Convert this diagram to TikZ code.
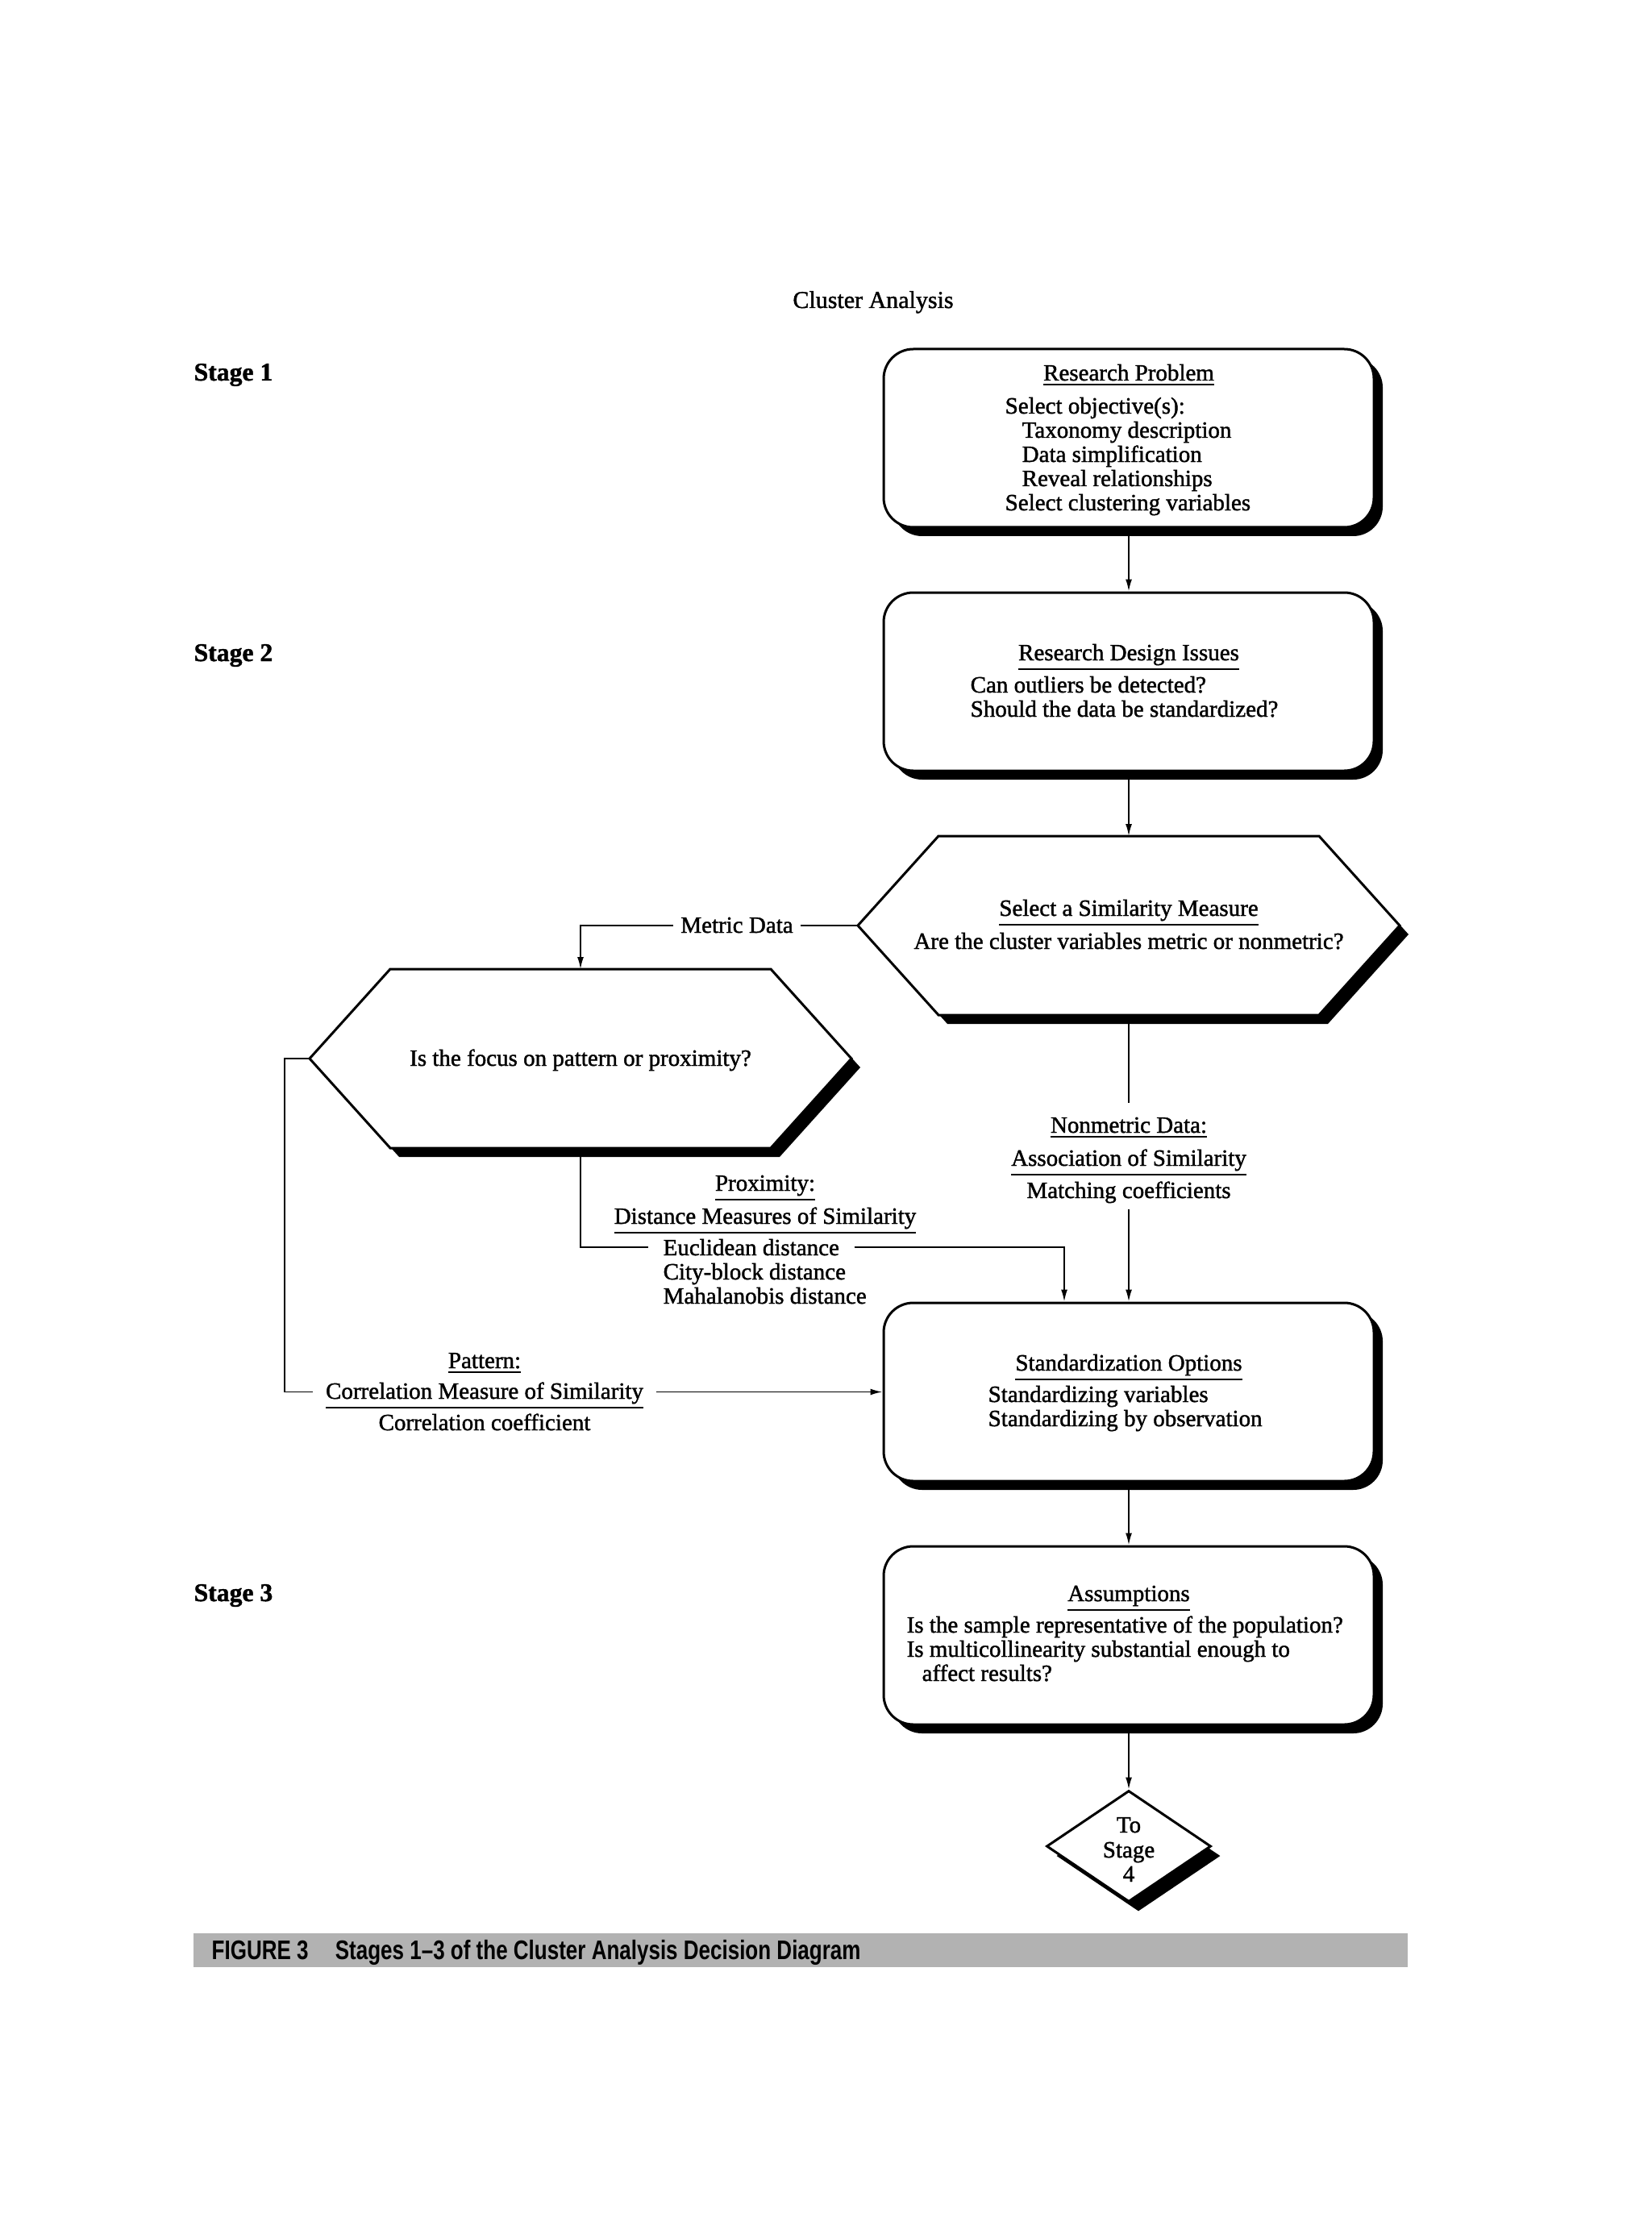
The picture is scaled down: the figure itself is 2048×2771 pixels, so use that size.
\documentclass[tikz,border=0pt]{standalone}
\usepackage{fontspec}
\setmainfont{Liberation Serif}[FakeBold=1.4]
\newfontfamily\capfont{Liberation Sans}[FakeStretch=0.78, Ligatures=TeX]
\usetikzlibrary{shapes.geometric,shadows,arrows.meta,calc}
\tikzset{
  x=0.3pt, y=-0.3pt,
  every node/.style={font=\fontsize{8.7}{9}\selectfont, inner sep=0pt},
  shad/.style={drop shadow={shadow xshift=3.3pt, shadow yshift=-3.3pt, fill=black, opacity=1}},
  box/.style={draw, line width=0.9pt, rounded corners=11pt, fill=white,
    minimum width=182.4pt, minimum height=66.3pt, shad},
  hexs/.style={draw, line width=0.9pt, fill=white, shad},
  conn/.style={line width=0.55pt},
  arr/.style={-{Latex[length=4.5pt,width=2.4pt]}},
  stagelbl/.style={font=\fontsize{9.5}{10}\selectfont\bfseries, anchor=base west},
  hd/.style={anchor=base},
  ln/.style={anchor=base west},
}
\begin{document}
\begin{tikzpicture}
\fill[white] (0,0) rectangle (2048,2771);
\useasboundingbox (0,0) rectangle (2048,2771);

% title and stage labels
\node[anchor=base, font=\fontsize{9}{9}\selectfont] (title) at (1083,382) {Cluster Analysis};
\node[stagelbl] (st1) at (240,472) {Stage 1};
\node[stagelbl] (st2) at (240,820) {Stage 2};
\node[stagelbl] (st3) at (240,1986) {Stage 3};

% Box 1
\node[box] (box1) at (1400,543.5) {};
\node[hd] (b1h) at (1400,472) {\underline{Research Problem}};
\node[ln] (b1a) at (1246,513) {Select objective(s):};
\node[ln] (b1b) at (1267,543) {Taxonomy description};
\node[ln] (b1c) at (1267,573) {Data simplification};
\node[ln] (b1d) at (1267,603) {Reveal relationships};
\node[ln] (b1e) at (1246,633) {Select clustering variables};

% Box 2
\node[box] (box2) at (1400,845.5) {};
\node[hd] (b2h) at (1400,819) {\underline{Research Design Issues}};
\node[ln] (b2a) at (1203,859) {Can outliers be detected?};
\node[ln] (b2b) at (1203,889) {Should the data be standardized?};

% Hexagon A
\coordinate (hexA) at (1400,1148);
\coordinate (hexAw) at ($(hexA)+(-336,0)$);
\coordinate (hexAn) at ($(hexA)+(0,-111)$);
\coordinate (hexAs) at ($(hexA)+(0,111)$);
\path[hexs] (hexAw) -- ($(hexA)+(-236,-111)$) -- ($(hexA)+(236,-111)$) -- ($(hexA)+(336,0)$)
  -- ($(hexA)+(236,111)$) -- ($(hexA)+(-236,111)$) -- cycle;
\node[hd] (hAh) at (1400,1136) {\underline{Select a Similarity Measure}};
\node[hd] (hAa) at (1400,1177) {Are the cluster variables metric or nonmetric?};

% Hexagon B
\coordinate (hexB) at (720,1313);
\coordinate (hexBw) at ($(hexB)+(-336,0)$);
\coordinate (hexBn) at ($(hexB)+(0,-111)$);
\coordinate (hexBs) at ($(hexB)+(0,111)$);
\path[hexs] (hexBw) -- ($(hexB)+(-236,-111)$) -- ($(hexB)+(236,-111)$) -- ($(hexB)+(336,0)$)
  -- ($(hexB)+(236,111)$) -- ($(hexB)+(-236,111)$) -- cycle;
\node[hd] (hBa) at (720,1322) {Is the focus on pattern or proximity?};

% Metric data
\node[hd, inner xsep=2.6pt] (mdata) at (914,1157) {Metric Data};
\draw[conn] (hexAw) -- (mdata.east |- hexAw);
\draw[conn,arr] (mdata.west |- hexAw) -| (hexBn);

% Box 3
\node[box] (box3) at (1400,1726.5) {};
\node[hd] (b3h) at (1400,1700) {\underline{Standardization Options}};
\node[ln] (b3a) at (1225,1739) {Standardizing variables};
\node[ln] (b3b) at (1225,1769) {Standardizing by observation};

% Nonmetric
\node[hd] (nm1) at (1400,1405) {\underline{Nonmetric Data:}};
\node[hd] (nm2) at (1400,1446) {\underline{Association of Similarity}};
\node[hd] (nm3) at (1400,1486) {Matching coefficients};
\draw[conn] (hexAs) -- ([yshift=5pt]nm1.north);
\draw[conn,arr] ([yshift=-2pt]nm3.south) -- (box3.north);

% Proximity
\node[hd] (px1) at (949,1477) {\underline{Proximity:}};
\node[hd] (px2) at (949,1518) {\underline{Distance Measures of Similarity}};
\node[ln, inner xsep=5.4pt] (eu) at (804,1557) {Euclidean distance};
\node[ln] (cb) at (822,1587) {City-block distance};
\node[ln] (mh) at (822,1617) {Mahalanobis distance};
\draw[conn] (hexBs) |- (eu.west);
\draw[conn,arr] (eu.east) -| ($(box3.north)+(-80,0)$);

% Pattern
\node[hd] (pt1) at (601,1697) {\underline{Pattern:}};
\node[hd, inner xsep=4.5pt] (pt2) at (601,1735) {\underline{Correlation Measure of Similarity}};
\node[hd] (pt3) at (601,1774) {Correlation coefficient};
\coordinate (hexBl) at (353,1313);
\draw[conn] (hexBw) -- (hexBl) |- (pt2.west |- box3.west);
\draw[conn,arr] (pt2.east |- box3.west) -- (box3.west);

% Box 4
\node[box] (box4) at (1400,2028.5) {};
\node[hd] (b4h) at (1400,1986) {\underline{Assumptions}};
\node[ln] (b4a) at (1124,2025) {Is the sample representative of the population?};
\node[ln] (b4b) at (1124,2055) {Is multicollinearity substantial enough to};
\node[ln] (b4c) at (1143,2085) {affect results?};

% Diamond
\node[diamond, draw, line width=0.9pt, fill=white, minimum width=61.2pt, minimum height=41.4pt,
  aspect=1.48, drop shadow={shadow xshift=3.6pt, shadow yshift=-3.6pt, fill=black, opacity=1}] (dia) at (1400,2290) {};
\node[hd] (d1) at (1400,2273) {To};
\node[hd] (d2) at (1400,2304) {Stage};
\node[hd] (d3) at (1400,2334) {4};

% main arrows
\draw[conn,arr] (box1.south) -- (box2.north);
\draw[conn,arr] (box2.south) -- (hexAn);
\draw[conn,arr] (box4.south) -- (dia.north);
\draw[conn,arr] (box3.south) -- (box4.north);

% caption
\fill[black!30] (240,2398) rectangle (1746,2440);
\node[anchor=base west, text=black, font=\capfont\bfseries\fontsize{10}{10}\selectfont] (cap) at (262,2430)
  {FIGURE 3\hspace{1em}Stages 1–3 of the Cluster Analysis Decision Diagram};
\end{tikzpicture}
\end{document}
